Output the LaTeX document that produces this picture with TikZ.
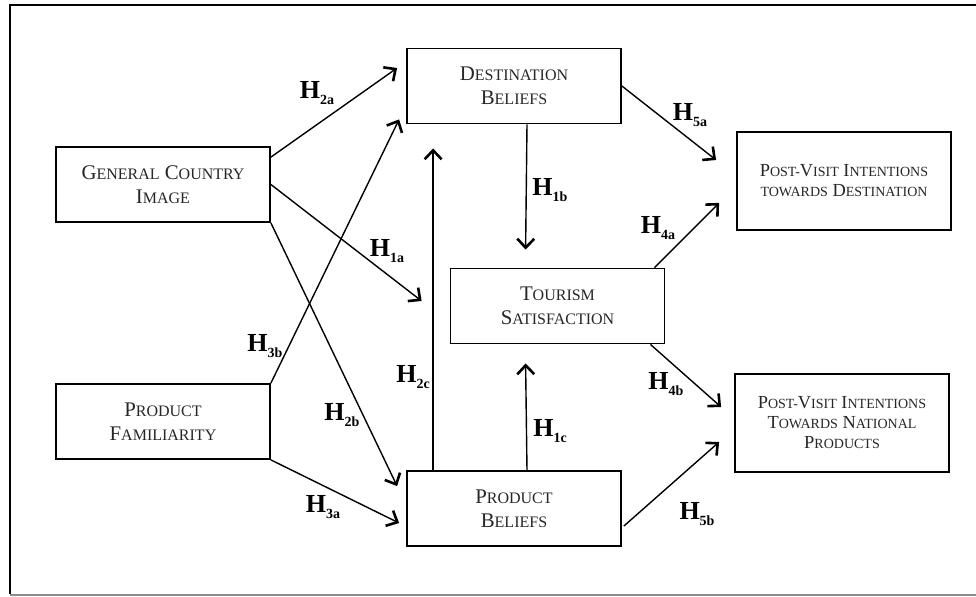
\documentclass[tikz,border=0pt]{standalone}
\usepackage{fontspec}
\setmainfont{Liberation Serif}
\usepackage{tikz}
\usetikzlibrary{calc}
\usetikzlibrary{arrows.meta}

\newcommand{\sck}[1]{{\fontsize{8}{12}\selectfont\MakeUppercase{#1}}}
\newcommand{\scks}[1]{{\fontsize{7}{10}\selectfont\MakeUppercase{#1}}}
\newcommand{\hyp}[1]{\textbf{H}\raisebox{-3.2pt}{\fontsize{7}{7}\selectfont\bfseries #1}}

\tikzset{
  factor/.style={draw, line width=.9pt, text=black!85, align=center,
    minimum width=107pt, minimum height=37.5pt, font=\fontsize{10.4}{12}\selectfont},
  outcome/.style={factor, minimum height=49pt, font=\fontsize{9.2}{10}\selectfont},
  link/.style={line width=.7pt, -{Straight Barb[length=4.5pt,width=8.5pt,line width=1.3pt]}},
  hlab/.style={inner sep=0, font=\fontsize{13}{14}\selectfont}
}

\begin{document}
\begin{tikzpicture}[x=.5pt, y=-.5pt]
\useasboundingbox (0,0) rectangle (976,596);
% frame
\draw[line width=1.2pt] (976,5) -- (10,5) -- (10,594);
\draw[black!45, line width=.6pt] (10,595) -- (976,595);

% constructs
\node[factor] (gci) at (163,184.5) {G\sck{eneral} C\sck{ountry}\\I\sck{mage}};
\node[factor] (pf) at (163,421.5) {P\sck{roduct}\\F\sck{amiliarity}};
\node[factor] (db) at (514,86) {D\sck{estination}\\B\sck{eliefs}};
\node[factor] (ts) at (557.5,306) {T\sck{ourism}\\S\sck{atisfaction}};
\node[factor] (pb) at (514,508.5) {P\sck{roduct}\\B\sck{eliefs}};
\node[outcome] (pvd) at (844,181) {P\scks{ost-}V\scks{isit} I\scks{ntentions}\\\scks{towards} D\scks{estination}};
\node[outcome] (pvn) at (842,423) {P\scks{ost-}V\scks{isit} I\scks{ntentions}\\T\scks{owards} N\scks{ational}\\P\scks{roducts}};

% hypotheses
\draw[link] ($(gci.north east)+(0,11)$) -- ($(db.west)+(-9,-18)$);
\draw[link] (pf.north east) -- ($(db.south west)+(-7,-5)$);
\draw[link] (gci.east) -- ($(ts.west)+(-28,-5)$);
\draw[link] (gci.south east) -- ($(pb.north west)+(-9,16)$);
\draw[link] (pf.south east) -- ($(pb.west)+(-7,14.5)$);
\draw[link] ($(pb.north west)+(27,0)$) -- ($(db.south west)+(27,24)$);
\draw[link] ($(db.south)+(13,0)$) -- ($(ts.north west)+(76,-18)$);
\draw[link] ($(pb.north)+(13,0)$) -- ($(ts.south west)+(76,19)$);
\draw[link] ($(ts.north east)+(-11,0)$) -- ($(pvd.south west)+(-17,-28)$);
\draw[link] ($(ts.south east)+(-15,0)$) -- ($(pvn.west)+(-13,-16)$);
\draw[link] (db.east) -- ($(pvd.west)+(-20,-21)$);
\draw[link] ($(pb.east)+(2,17.5)$) -- ($(pvn.west)+(-15,19)$);

\foreach \n/\x/\y in {2a/317/93, 1a/387/251, 3b/265/346, 2b/342/415, 3a/323/507,
  2c/413/377, 1b/550/190, 1c/550/431, 4a/658/228, 4b/666/384, 5a/690/115, 5b/697/514} {
  \node[hlab] (h\n) at (\x,\y) {\hyp{\n}};
}
\end{tikzpicture}
\end{document}
